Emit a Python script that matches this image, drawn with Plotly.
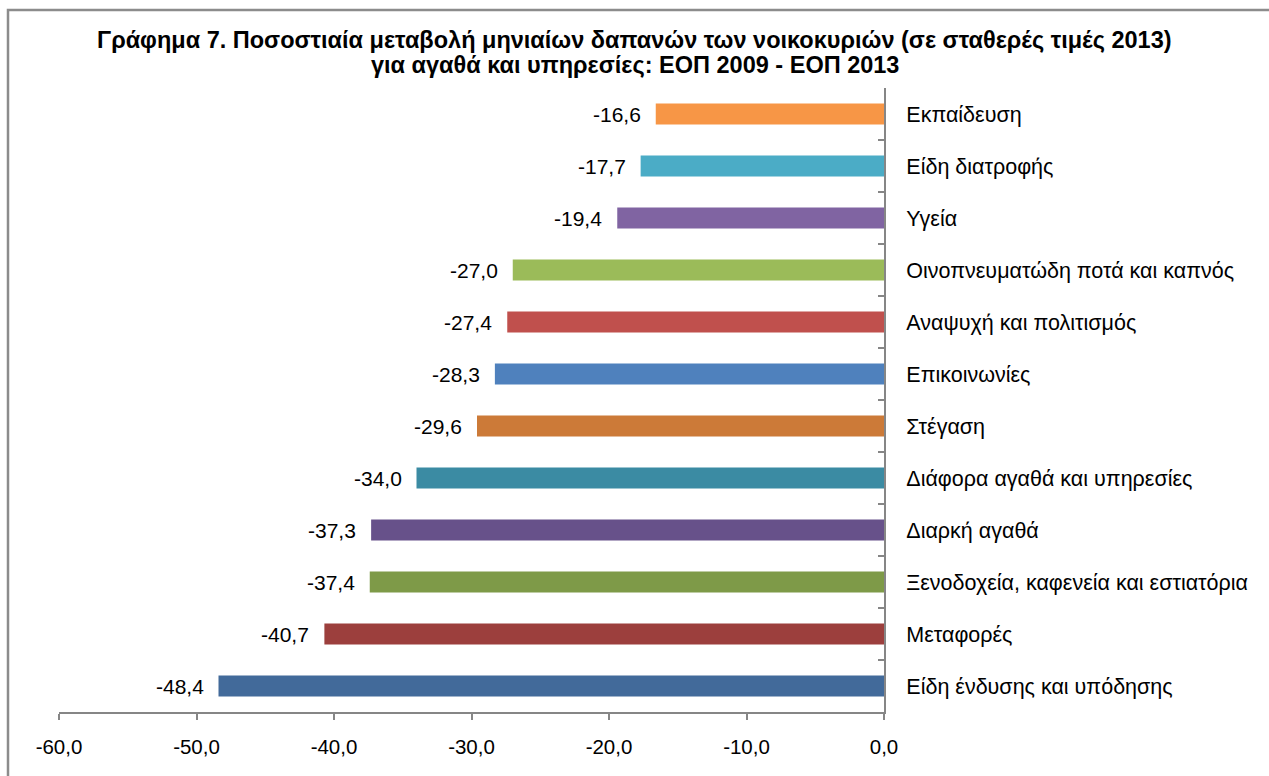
import plotly.graph_objects as go

categories = [
    "Είδη ένδυσης και υπόδησης",
    "Μεταφορές",
    "Ξενοδοχεία, καφενεία και εστιατόρια",
    "Διαρκή αγαθά",
    "Διάφορα αγαθά και υπηρεσίες",
    "Στέγαση",
    "Επικοινωνίες",
    "Αναψυχή και πολιτισμός",
    "Οινοπνευματώδη ποτά και καπνός",
    "Υγεία",
    "Είδη διατροφής",
    "Εκπαίδευση",
]
values = [-48.4, -40.7, -37.4, -37.3, -34.0, -29.6, -28.3, -27.4, -27.0, -19.4, -17.7, -16.6]
colors = [
    "#426A9A", "#9C3F3D", "#7E9A48", "#67518A", "#3B8BA3", "#CC7A38",
    "#4F81BD", "#C0504D", "#9BBB59", "#8064A2", "#4BACC6", "#F79646",
]
x_ticks = [-60, -50, -40, -30, -20, -10, 0]
x_tick_labels = ["-60,0", "-50,0", "-40,0", "-30,0", "-20,0", "-10,0", "0,0"]
title_lines = [
    "Γράφημα 7. Ποσοστιαία μεταβολή μηνιαίων δαπανών των νοικοκυριών (σε σταθερές τιμές 2013)",
    "για αγαθά και υπηρεσίες: ΕΟΠ 2009 - ΕΟΠ 2013",
]

FONT = "Liberation Sans, Arial, sans-serif"
AXIS = "#868686"

fig = go.Figure()
fig.add_trace(go.Bar(
    x=values, y=categories, orientation="h",
    marker=dict(color=colors, line=dict(width=0)),
    hoverinfo="x+y",
))

for v, c in zip(values, categories):
    fig.add_annotation(
        x=v, y=c, xref="x", yref="y",
        text=f"{v:.1f}".replace(".", ","),
        showarrow=False, xanchor="right", yanchor="middle",
        xshift=-13, font=dict(family=FONT, size=21, color="#000000"),
    )

# plot-area geometry in pixels
L, R, T, B = 59, 884, 88, 712
W, H = R - L, B - T
def px(p):
    return (p - L) / W
def py(p):
    return (B - p) / H

# outer frame of the chart area (top and left edges)
fig.add_shape(type="path", xref="paper", yref="paper",
              path=f"M {px(8)},{py(776)} L {px(8)},{py(10)} L {px(1269)},{py(10)}",
              line=dict(color="#8c8c8c", width=2.5), layer="above")

# title lines (centered over the full figure)
for line, ypix in zip(title_lines, [40, 65]):
    fig.add_annotation(
        x=px(1269 / 2), xref="paper", y=py(ypix), yref="paper",
        text="<b>" + line + "</b>", showarrow=False,
        xanchor="center", yanchor="middle",
        font=dict(family=FONT, size=23.5, color="#000000"),
    )

fig.update_layout(
    width=1269, height=776,
    margin=dict(l=L, r=1269 - R, t=T, b=776 - B),
    paper_bgcolor="white", plot_bgcolor="white",
    showlegend=False,
    bargap=0.6,
    font=dict(family=FONT, size=21, color="#000000"),
    xaxis=dict(
        range=[-60, 0], tickvals=x_ticks, ticktext=x_tick_labels,
        showgrid=False, zeroline=False,
        showline=True, linecolor=AXIS, linewidth=2,
        ticks="outside", ticklen=6, tickcolor=AXIS, tickwidth=2,
        ticklabelstandoff=9,
        tickfont=dict(family=FONT, size=20.5, color="#000000"),
    ),
    yaxis=dict(
        type="category", side="right",
        showgrid=False, zeroline=False,
        showline=True, linecolor=AXIS, linewidth=2,
        ticks="inside", tickson="boundaries", ticklen=6, tickcolor=AXIS, tickwidth=2,
        ticklabelstandoff=16,
        tickfont=dict(family=FONT, size=21.5, color="#000000"),
    ),
)

fig.write_html("out.html", config={"displayModeBar": False},
               post_script="document.body.style.margin='0';")
